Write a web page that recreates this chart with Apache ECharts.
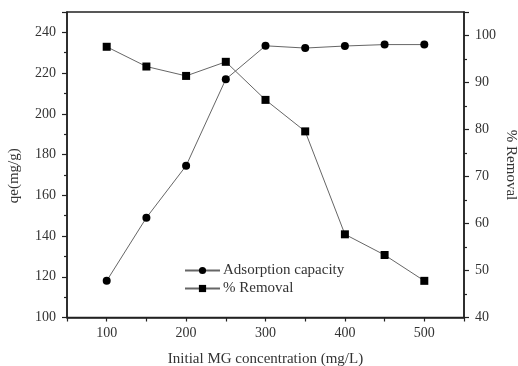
<!DOCTYPE html>
<html>
<head>
<meta charset="utf-8">
<script src="https://cdn.jsdelivr.net/npm/echarts@6/dist/echarts.min.js"></script>
<style>
  html, body { margin: 0; padding: 0; background: #fff; }
  #chart { width: 518px; height: 366px; }
</style>
</head>
<body>
<div id="chart"></div>
<script>
// Initial MG concentration (mg/L)
const concentrations = [100, 150, 200, 250, 300, 350, 400, 450, 500];
// Adsorption capacity qe (mg/g), left axis
const adsorptionCapacity = [118, 149, 174.5, 217, 233.4, 232.3, 233.3, 234, 234];
// Removal (%), right axis
const removalPercent = [97.6, 93.4, 91.4, 94.4, 86.3, 79.6, 57.7, 53.3, 47.8];

const FONT = '"Liberation Serif", "DejaVu Serif", serif';
const TEXT = '#333';
const AXIS = '#222';

const pairs = (ys) => concentrations.map((x, i) => [x, ys[i]]);

const chart = echarts.init(document.getElementById('chart'), null, { renderer: 'canvas' });

chart.setOption({
  animation: false,
  backgroundColor: '#fff',
  textStyle: { fontFamily: FONT, color: TEXT },
  grid: {
    left: 67, right: 54, top: 12, bottom: 48.5,
    containLabel: false, outerBoundsMode: 'none',
    show: true, borderColor: AXIS, borderWidth: 1.5, backgroundColor: 'transparent'
  },
  legend: {
    orient: 'vertical',
    left: 179, top: 258,
    itemWidth: 35, itemHeight: 9, itemGap: 3,
    textStyle: { fontFamily: FONT, fontSize: 15, color: TEXT, padding: [0, 0, 0, -2] },
    data: ['Adsorption capacity', '% Removal']
  },
  // Right-hand axis title, placed beside the % Removal tick labels
  graphic: [
    {
      type: 'text',
      x: 511, y: 165,
      rotation: -Math.PI / 2,
      style: {
        text: '% Removal',
        font: '15px ' + FONT,
        fill: TEXT,
        align: 'center',
        verticalAlign: 'middle'
      }
    }
  ],
  xAxis: {
    type: 'value',
    min: 50, max: 550, interval: 50,
    name: 'Initial MG concentration (mg/L)',
    nameLocation: 'middle', nameGap: 34,
    nameTextStyle: { fontFamily: FONT, fontSize: 15, color: TEXT },
    axisLine: { lineStyle: { color: AXIS, width: 1.5 } },
    axisTick: { inside: false, length: 4, lineStyle: { color: AXIS, width: 1.2 } },
    axisLabel: {
      fontFamily: FONT, fontSize: 14, color: TEXT, margin: 9,
      formatter: (v) => (v % 100 === 0 && v >= 100 && v <= 500) ? String(v) : ''
    },
    splitLine: { show: false }
  },
  yAxis: [
    {
      type: 'value', position: 'left',
      min: 100, max: 250, interval: 20,
      name: 'qe(mg/g)',
      nameLocation: 'middle', nameGap: 45, nameMoveOverlap: false,
      nameTextStyle: { fontFamily: FONT, fontSize: 15, color: TEXT, padding: [0, 22, 0, 0] },
      axisLine: { show: true, lineStyle: { color: AXIS, width: 1.5 } },
      axisTick: { length: 5, lineStyle: { color: AXIS, width: 1.2 } },
      minorTick: { show: true, splitNumber: 2, length: 3, lineStyle: { color: AXIS, width: 1.2 } },
      axisLabel: { fontFamily: FONT, fontSize: 14, color: TEXT, margin: 11, showMaxLabel: false },
      splitLine: { show: false }
    },
    {
      type: 'value', position: 'right',
      min: 40, max: 105, interval: 10,
      axisLine: { show: true, lineStyle: { color: AXIS, width: 1.5 } },
      axisTick: { length: 5, lineStyle: { color: AXIS, width: 1.2 } },
      minorTick: { show: true, splitNumber: 2, length: 3, lineStyle: { color: AXIS, width: 1.2 } },
      axisLabel: { fontFamily: FONT, fontSize: 14, color: TEXT, margin: 11, showMaxLabel: false },
      splitLine: { show: false }
    }
  ],
  series: [
    {
      name: 'Adsorption capacity',
      type: 'line',
      yAxisIndex: 0,
      data: pairs(adsorptionCapacity),
      symbol: 'circle', symbolSize: 8,
      lineStyle: { color: '#666', width: 1 },
      itemStyle: { color: '#000' }
    },
    {
      name: '% Removal',
      type: 'line',
      yAxisIndex: 1,
      data: pairs(removalPercent),
      symbol: 'rect', symbolSize: 8,
      lineStyle: { color: '#666', width: 1 },
      itemStyle: { color: '#000' }
    }
  ]
});
</script>
</body>
</html>
